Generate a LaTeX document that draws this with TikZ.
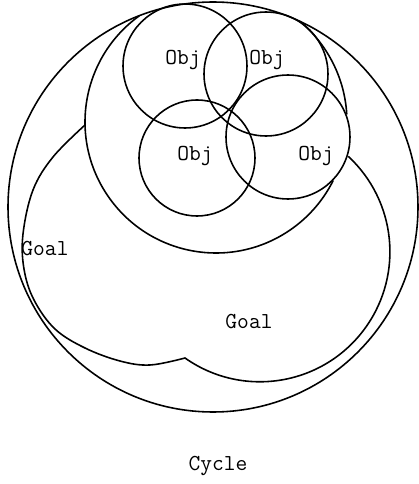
\documentclass[tikz,border=0pt]{standalone}
\usepackage{tikz}
\usetikzlibrary{positioning}

\begin{document}
\begin{tikzpicture}[
    x=0.02cm, y=0.02cm,
    every node/.style={font=\ttfamily\fontsize{13}{15}\selectfont},
    ring/.style={draw=black, line width=0.9pt},
    objring/.style={circle, draw=black, line width=0.9pt, minimum size=2.48cm, inner sep=0pt},
    tag/.style={inner sep=1pt}
]
\useasboundingbox (0,0) rectangle (419,484);

% Cycle
\coordinate (cyc) at (213,277);
\draw[ring] (cyc) circle[radius=205];
\node[tag] (cyclet) at (218,18) {Cycle};

% Goal around the objects
\coordinate (gup) at (216,362);
\draw[ring] ([shift={(125.8:131)}]gup) arc[start angle=125.8, end angle=333.5, radius=131];
\draw[ring] ([shift={(50.2:131)}]gup) arc[start angle=50.2, end angle=3.3, radius=131];
\node[tag] (goalat) at (45,235) {Goal};

% Goal below
\coordinate (glow) at (260,232);
\draw[ring] plot[smooth, tension=0.6] coordinates {(85,359) (53,327) (33,294) (23,250) (24,215) (34,184) (55,155) (85,136) (120,123) (150,119) (185,126)}
    arc[start angle=234.8, end angle=407.2, radius=130];
\node[tag] (goalbt) at (249,162) {Goal};

% Obj circles
\node[objring] (obja) at (185,418) {};
\node[objring] (objb) at (266,410) {};
\node[objring, minimum size=2.32cm] (objc) at (197,326) {};
\node[objring] (objd) at (288,347) {};

\node[tag] (objat) at (183,424) {Obj};
\node[tag] (objbt) at (267,424) {Obj};
\node[tag] (objct) at (195,328) {Obj};
\node[tag] (objdt) at (316,328) {Obj};

\end{tikzpicture}
\end{document}
